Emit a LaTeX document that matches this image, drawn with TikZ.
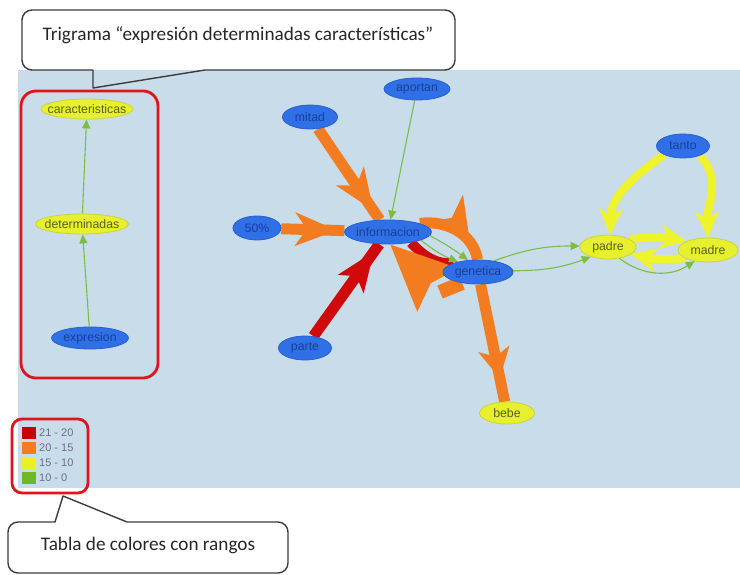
\documentclass[tikz,border=0pt]{standalone}
\usepackage{fontspec}
\setmainfont{Liberation Sans}
\newfontfamily\calloutfont{Carlito}
\usetikzlibrary{shapes.geometric,arrows.meta,decorations.markings}

\definecolor{canvas}{HTML}{C8DCEA}
\definecolor{nodeblue}{HTML}{2F70E6}
\definecolor{nodeblueborder}{HTML}{2A5FCF}
\definecolor{nodebluetext}{HTML}{1C3F95}
\definecolor{nodeyellow}{HTML}{E7F02E}
\definecolor{nodeyellowborder}{HTML}{CCD43C}
\definecolor{nodeyellowtext}{HTML}{5A6020}
\definecolor{edgeorange}{HTML}{F47C20}
\definecolor{edgered}{HTML}{D00A0A}
\definecolor{edgeyellow}{HTML}{EEF32C}
\definecolor{edgegreen}{HTML}{7BBE42}
\definecolor{alertred}{HTML}{E0141C}
\definecolor{legendgray}{HTML}{6C6F8E}
\definecolor{calloutline}{HTML}{3C3C3C}
\definecolor{swred}{HTML}{C80000}
\definecolor{sworange}{HTML}{F47C20}
\definecolor{swyellow}{HTML}{E8F02A}
\definecolor{swgreen}{HTML}{6DB829}

\pgfdeclarelayer{bg}
\pgfdeclarelayer{edges}
\pgfsetlayers{bg,edges,main}

% label of fixed-size word bubbles
\newcommand\nodelabel[1]{\makebox[0pt]{#1}}

\tikzset{
  term/.style={ellipse, inner sep=0pt, line width=0.8pt,
    font=\fontsize{12.3}{13}\selectfont},
  bluenode/.style={term, fill=nodeblue, draw=nodeblueborder, text=nodebluetext},
  yellownode/.style={term, fill=nodeyellow, draw=nodeyellowborder, text=nodeyellowtext},
  greenlink/.style={draw=edgegreen, color=edgegreen, line width=1.1pt,
    -{Triangle[length=9pt,width=8pt]}},
  heavy/.style={line width=11pt},
  yellowlink/.style={color=edgeyellow, line width=8pt,
    -{Stealth[length=26pt,width=24pt,inset=7pt,line width=0pt]}},
  midtip/.style n args={4}{postaction={decorate,decoration={markings,
    mark=at position #1 with {\arrow{Stealth[length=#2,width=#3,inset=#4,line width=0pt]}}}}},
  calloutbox/.style={draw=calloutline, line width=1.4pt, line join=round},
  callouttext/.style={font=\calloutfont\fontsize{19.2}{21}\selectfont, text=black!85},
  alertbox/.style={draw=alertred, line width=2.8pt},
  swatch/.style={minimum width=14pt, minimum height=12pt, inner sep=0pt},
  legendtext/.style={anchor=west, inner sep=0pt, text=legendgray,
    font=\fontsize{11}{12}\selectfont},
}

\begin{document}
\begin{tikzpicture}[x=1pt,y=1pt]
\useasboundingbox (0,0) rectangle (740,574);

\begin{pgfonlayer}{bg}
  \fill[canvas] (18,86) rectangle (740,504);
\end{pgfonlayer}

% ---------- trigram column ----------
\node[yellownode, minimum width=92pt, minimum height=20pt] (carac) at (87,465) {\nodelabel{caracteristicas}};
\node[yellownode, minimum width=93pt, minimum height=20pt] (determ) at (82,350) {\nodelabel{determinadas}};
\node[bluenode, minimum width=77pt, minimum height=22pt] (expres) at (90,236) {\nodelabel{expresion}};

% ---------- main graph ----------
\node[bluenode, minimum width=66pt, minimum height=22pt] (aportan) at (417,485) {\nodelabel{aportan}};
\node[bluenode, minimum width=55pt, minimum height=24pt] (mitad) at (310,457) {\nodelabel{mitad}};
\node[bluenode, minimum width=48pt, minimum height=24pt] (p50) at (257,346) {\nodelabel{50\%}};
\node[bluenode, minimum width=87pt, minimum height=24pt] (info) at (388,342) {\nodelabel{informacion}};
\node[bluenode, minimum width=70pt, minimum height=24pt] (genetica) at (478,302) {\nodelabel{genetica}};
\node[bluenode, minimum width=53pt, minimum height=24pt] (parte) at (305,226) {\nodelabel{parte}};
\node[yellownode, minimum width=55pt, minimum height=22pt] (bebe) at (507,161) {\nodelabel{bebe}};
\node[bluenode, minimum width=53pt, minimum height=24pt] (tanto) at (683,428) {\nodelabel{tanto}};
\node[yellownode, minimum width=56pt, minimum height=24pt] (padre) at (608,327) {\nodelabel{padre}};
\node[yellownode, minimum width=60pt, minimum height=24pt] (madre) at (708,324) {\nodelabel{madre}};

\coordinate (gbend) at (440,282);

\begin{pgfonlayer}{edges}
  % red bands
  \draw[heavy, line width=10pt, color=edgered] (info.-25) to[out=-45,in=185] (genetica.160);
  \draw[heavy, color=edgered, midtip={0.92}{40pt}{32pt}{10pt}] (parte) -- (info);
  % orange bands
  \draw[heavy, color=edgeorange, midtip={0.9}{42pt}{34pt}{12pt}] (mitad) -- (info);
  \draw[heavy, color=edgeorange, midtip={0.88}{42pt}{34pt}{12pt}] (p50) -- (info);
  \draw[heavy, color=edgeorange, midtip={0.74}{42pt}{46pt}{12pt}] (info.15) to[out=8,in=100] (genetica.92);
  \draw[heavy, color=edgeorange, midtip={0.8}{30pt}{32pt}{8pt}] (genetica) -- (bebe);
  \draw[heavy, line width=14pt, color=edgeorange] (genetica.215) -- (gbend);
  \path[color=edgeorange, midtip={1}{66pt}{60pt}{10pt}] (gbend) -- (info.-80);
  % yellow bands
  \draw[yellowlink] (tanto.205) to[out=215,in=88] (padre.80);
  \draw[yellowlink] (tanto.-30) to[out=-45,in=92] (madre.90);
  \draw[yellowlink] (padre.20) to[bend left=8] (madre.158);
  \draw[yellowlink] (madre.200) to[bend left=8] (padre.-18);
  % green links
  \draw[greenlink] (expres) -- (determ);
  \draw[greenlink] (determ) -- (carac);
  \draw[greenlink] (aportan) -- (info);
  \draw[greenlink] (info.-14) to[bend right=8] (genetica.153);
  \draw[greenlink] (info.-5) to[bend left=4] (genetica.130);
  \draw[greenlink] (genetica.35) to[bend left=10] (padre.178);
  \draw[greenlink] (genetica.2) to[bend right=10] (padre.-150);
  \draw[greenlink] (padre.-45) to[bend right=35] (madre.-140);
\end{pgfonlayer}

% ---------- highlight frames ----------
\draw[alertbox, rounded corners=15pt] (21,196) rectangle (158,483);
\draw[alertbox, rounded corners=10pt] (12,81) rectangle (88,155);

% ---------- legend ----------
\node[swatch, fill=swred] (sw1) at (29,141) {};
\node[swatch, fill=sworange] (sw2) at (29,126) {};
\node[swatch, fill=swyellow] (sw3) at (29,111) {};
\node[swatch, fill=swgreen] (sw4) at (29,96) {};
\node[legendtext] (lg1) at (39,141) {21 - 20};
\node[legendtext] (lg2) at (39,126) {20 - 15};
\node[legendtext] (lg3) at (39,111) {15 - 10};
\node[legendtext] (lg4) at (39,96) {10 - 0};

% ---------- callouts ----------
\draw[calloutbox] (93,486) -- (205,504) -- (445,504)
  arc[start angle=-90,end angle=0,radius=10] -- (455,554)
  arc[start angle=0,end angle=90,radius=10] -- (32,564)
  arc[start angle=90,end angle=180,radius=10] -- (22,514)
  arc[start angle=180,end angle=270,radius=10] -- (93,504) -- cycle;
\node[callouttext] (trigram) at (238,539) {Trigrama “expresión determinadas características”};

\draw[calloutbox] (63,78) -- (127,52) -- (278,52)
  arc[start angle=90,end angle=0,radius=10] -- (288,11)
  arc[start angle=0,end angle=-90,radius=10] -- (18,1)
  arc[start angle=-90,end angle=-180,radius=10] -- (8,42)
  arc[start angle=180,end angle=90,radius=10] -- (55,52) -- cycle;
\node[callouttext] (rangos) at (148,29) {Tabla de colores con rangos};
\end{tikzpicture}
\end{document}
